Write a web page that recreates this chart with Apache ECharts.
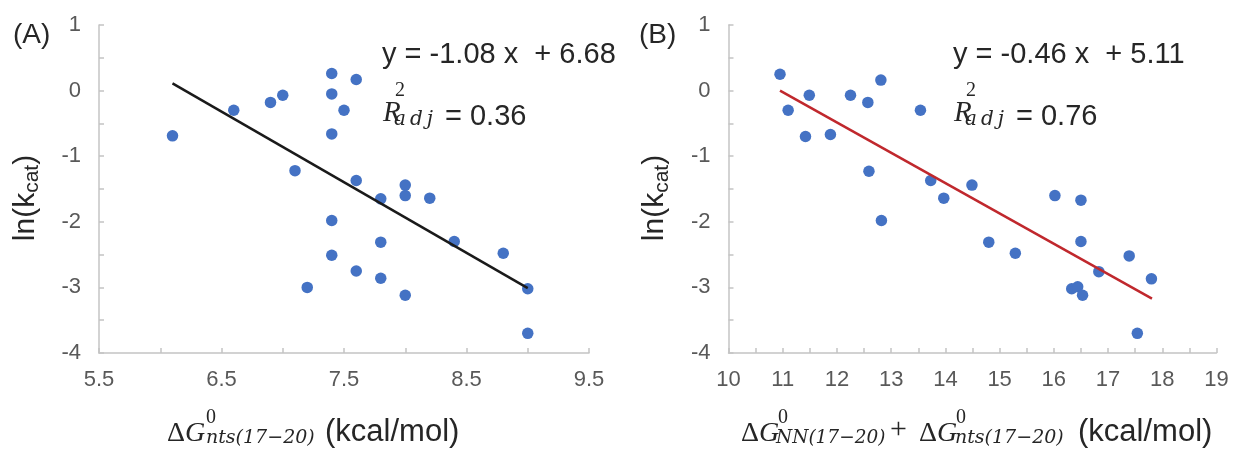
<!DOCTYPE html>
<html><head><meta charset="utf-8">
<script src="https://cdn.jsdelivr.net/npm/echarts@6/dist/echarts.min.js"></script>
<style>html,body{margin:0;padding:0;background:#fff}#c{width:1235px;height:450px}</style>
</head><body><div id="c"></div>
<script>
// Panel A: ΔG0 nts(17-20) vs ln(kcat)
const xA = [6.1, 6.6, 6.9, 7.0, 7.4, 7.4, 7.5, 7.6, 7.4, 7.1, 7.6, 7.8, 8.0, 8.0, 8.2, 7.4, 7.8, 8.4, 8.8, 7.4, 7.6, 7.8, 7.2, 8.0, 9.0, 9.0];
const yA = [-0.69, -0.30, -0.18, -0.07, 0.26, -0.05, -0.30, 0.17, -0.66, -1.22, -1.37, -1.65, -1.44, -1.60, -1.64, -1.98, -2.31, -2.30, -2.48, -2.51, -2.75, -2.86, -3.00, -3.12, -3.02, -3.70];
// Panel B: ΔG0 NN + ΔG0 nts vs ln(kcat)
const xB = [10.95, 11.10, 11.49, 11.42, 11.88, 12.25, 12.57, 12.81, 12.59, 12.82, 13.54, 13.73, 13.97, 14.49, 14.80, 15.29, 16.02, 16.50, 16.50, 16.83, 16.33, 16.44, 16.53, 17.39, 17.80, 17.54];
const yB = [0.25, -0.30, -0.07, -0.70, -0.67, -0.07, -0.18, 0.16, -1.23, -1.98, -0.30, -1.37, -1.64, -1.44, -2.31, -2.48, -1.60, -1.67, -2.30, -2.76, -3.02, -2.99, -3.12, -2.52, -2.87, -3.70];
// Trendline end points
const trendAx = [6.1, 9.0];
const trendAy = [0.11, -3.01];
const trendBx = [10.95, 17.81];
const trendBy = [0.0, -3.17];
// Tick labels
const yTickLabels = [-4, -3, -2, -1, 0, 1];
const xTickLabelsA = [5.5, 6.5, 7.5, 8.5, 9.5];
const xTickLabelsB = [10, 11, 12, 13, 14, 15, 16, 17, 18, 19];
// Annotation texts
const eqA = 'y = -1.08 x  + 6.68';
const r2A = '= 0.36';
const eqB = 'y = -0.46 x  + 5.11';
const r2B = '= 0.76';

const zip = (xs, ys) => xs.map((x, i) => [x, ys[i]]);
const has = (arr, v) => arr.some(t => Math.abs(t - v) < 1e-6);

const AX = '#C4C4C4', LBL = '#595959', TXT = '#262626';
const SANS = '"Liberation Sans", Arial, sans-serif';
const SERIF = '"Liberation Serif", "Times New Roman", serif';
const MATH = '"DejaVu Serif", serif';

function xAxisCfg(idx, min, max, labels, dec) {
  return {
    type: 'value', gridIndex: idx, min, max, interval: 0.5,
    axisLine: { show: true, onZero: false, lineStyle: { color: AX, width: 1.5 } },
    axisTick: { show: true, inside: true, length: 5, lineStyle: { color: AX, width: 1.5 } },
    splitLine: { show: false },
    axisLabel: { color: LBL, fontSize: 22, fontFamily: SANS, margin: 16,
      formatter: v => has(labels, v) ? v.toFixed(dec) : '' }
  };
}
function yAxisCfg(idx) {
  return {
    type: 'value', gridIndex: idx, min: -4, max: 1, interval: 0.5,
    axisLine: { show: true, lineStyle: { color: AX, width: 1.5 } },
    axisTick: { show: true, inside: true, length: 5, lineStyle: { color: AX, width: 1.5 } },
    splitLine: { show: false },
    axisLabel: { color: LBL, fontSize: 22, fontFamily: SANS, margin: 18,
      formatter: v => has(yTickLabels, v) ? String(Math.round(v)) : '' },
    name: '{m|ln(k}{s|cat}{m|)}', nameLocation: 'middle', nameGap: 56,
    nameTextStyle: { padding: [0, 18, 0, 0], rich: {
      m: { fontSize: 30, fontFamily: SANS, color: TXT, lineHeight: 35 },
      s: { fontSize: 21, fontFamily: SANS, color: TXT, lineHeight: 35, verticalAlign: 'bottom' }
    } }
  };
}

const K = 0.345;
function t(x, base, text, size, family, italic) {
  return { type: 'text', x: x, y: base - K * size, silent: true,
    style: { text: text, fontSize: size, fontFamily: family, fontStyle: italic ? 'italic' : 'normal',
      fill: TXT, align: 'left', verticalAlign: 'middle' } };
}
function dG(x, base) {
  return { type: 'text', x: x, y: base - K * 28, silent: true,
    style: { text: '{d|Δ}{g|G}', fill: TXT, align: 'left', verticalAlign: 'middle',
      rich: { d: { fontSize: 28, fontFamily: SERIF, fill: TXT },
              g: { fontSize: 28, fontFamily: SERIF, fontStyle: 'italic', fill: TXT } } } };
}
function r2(x, text) {
  return [
    t(x, 123, 'R', 29, SERIF, true),
    t(x + 12, 98, '2', 20, SERIF, false),
    t(x + 11, 126.5, 'a\u2009d\u2009j', 20, MATH, true),
    t(x + 62, 127, text, 29, SANS, false)
  ];
}
const OFF = 571;
const graphics = [
  t(13, 45, '(A)', 28, SANS, false),
  t(639, 45, '(B)', 28, SANS, false),
  t(382, 65, eqA, 29, SANS, false),
  t(382 + OFF, 65, eqB, 29, SANS, false),
  ...r2(383, r2A),
  ...r2(383 + OFF, r2B),
  // x title A
  dG(167, 443),
  t(206, 425, '0', 20, SERIF, false),
  t(206, 445, 'nts(17−20)', 19, MATH, true),
  t(325, 443, '(kcal/mol)', 31, SANS, false),
  // x title B
  dG(741, 443),
  t(778, 425, '0', 20, SERIF, false),
  t(776, 445, 'NN(17−20)', 18.5, MATH, true),
  t(890, 440, '+', 30, SERIF, false),
  dG(919, 443),
  t(956, 425, '0', 20, SERIF, false),
  t(955, 445, 'nts(17−20)', 19, MATH, true),
  t(1078, 443, '(kcal/mol)', 31, SANS, false)
];

const chart = echarts.init(document.getElementById('c'), null, { renderer: 'canvas' });
chart.setOption({
  animation: false,
  backgroundColor: '#ffffff',
  grid: [
    { left: 99, top: 25, width: 490, height: 328 },
    { left: 728.5, top: 25, width: 488, height: 328 }
  ],
  xAxis: [xAxisCfg(0, 5.5, 9.5, xTickLabelsA, 1), xAxisCfg(1, 10, 19, xTickLabelsB, 0)],
  yAxis: [yAxisCfg(0), yAxisCfg(1)],
  series: [
    { type: 'scatter', xAxisIndex: 0, yAxisIndex: 0, data: zip(xA, yA), symbolSize: 11.5,
      itemStyle: { color: '#4472C4', opacity: 1 }, z: 2 },
    { type: 'line', xAxisIndex: 0, yAxisIndex: 0, data: zip(trendAx, trendAy), symbol: 'none',
      lineStyle: { color: '#1a1a1a', width: 2.5 }, z: 3 },
    { type: 'scatter', xAxisIndex: 1, yAxisIndex: 1, data: zip(xB, yB), symbolSize: 11.5,
      itemStyle: { color: '#4472C4', opacity: 1 }, z: 2 },
    { type: 'line', xAxisIndex: 1, yAxisIndex: 1, data: zip(trendBx, trendBy), symbol: 'none',
      lineStyle: { color: '#C0282D', width: 2.5 }, z: 3 }
  ],
  graphic: graphics
});
</script>
</body></html>
